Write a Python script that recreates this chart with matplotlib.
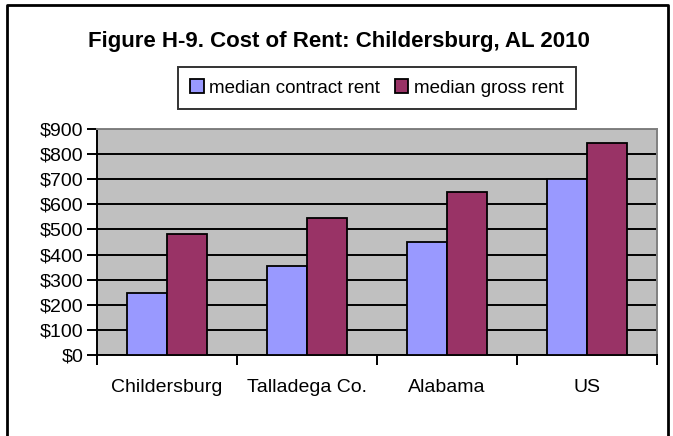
import matplotlib.pyplot as plt
import numpy as np
from matplotlib.lines import Line2D
from matplotlib.patches import Patch

plt.rcParams['font.family'] = ['Liberation Sans', 'DejaVu Sans']

# data
places = ['Childersburg', 'Talladega Co.', 'Alabama', 'US']
contract_rent = [245, 355, 450, 700]
gross_rent = [480, 545, 648, 845]
y_ticks = [0, 100, 200, 300, 400, 500, 600, 700, 800, 900]

fig = plt.figure(figsize=(6.73, 4.36), dpi=100)
ax = fig.add_axes([97 / 673, 81 / 436, 560 / 673, 226 / 436])

x = np.arange(len(places))
w = 40 / 140
ax.set_facecolor('#C0C0C0')
ax.bar(x - w / 2, contract_rent, w, color='#9999FF', edgecolor='black', linewidth=1.3,
       label='median contract rent', zorder=3)
ax.bar(x + w / 2, gross_rent, w, color='#993366', edgecolor='black', linewidth=1.3,
       label='median gross rent', zorder=3)

ax.set_xlim(-0.5, len(places) - 0.5)
ax.set_ylim(0, 900)
ax.set_yticks(y_ticks)
ax.set_yticklabels([f'${v}' for v in y_ticks])
ax.yaxis.grid(True, color='black', linewidth=1.4, zorder=1)
ax.set_axisbelow(True)

ax.set_xticks(x)
ax.set_xticklabels(places)
ax.set_xticks(np.arange(-0.5, len(places)), minor=True)
ax.tick_params(axis='x', which='major', length=0, pad=17, labelsize=14)
ax.tick_params(axis='x', which='minor', length=7, width=1.4, direction='out')
ax.tick_params(axis='y', length=7, width=1.4, pad=3, labelsize=14)

for s in ['left', 'bottom']:
    ax.spines[s].set_color('black')
    ax.spines[s].set_linewidth(1.4)
for s in ['top', 'right']:
    ax.spines[s].set_color('#808080')
    ax.spines[s].set_linewidth(1.4)

fig.text(339 / 673, 1 - 41 / 436, 'Figure H-9. Cost of Rent: Childersburg, AL 2010',
         ha='center', va='center', fontsize=16, fontweight='bold')

handles = [Patch(facecolor='#9999FF', edgecolor='black', linewidth=1.3),
           Patch(facecolor='#993366', edgecolor='black', linewidth=1.3)]
leg = fig.legend(handles, ['median contract rent', 'median gross rent'],
                 loc='center', bbox_to_anchor=(377 / 673, 1 - 88 / 436), ncol=2,
                 fontsize=13.5, frameon=True, fancybox=False, edgecolor='black',
                 handlelength=0.7, handleheight=0.7, handletextpad=0.3,
                 columnspacing=0.8, borderpad=0.65)
leg.get_frame().set_linewidth(1.4)

# outer frame (left, top, right)
fig.add_artist(Line2D([7 / 673, 7 / 673, 668 / 673, 668 / 673],
                      [0, 1 - 5 / 436, 1 - 5 / 436, 0],
                      color='black', linewidth=2, transform=fig.transFigure))

fig.savefig('out.png', dpi=100)
